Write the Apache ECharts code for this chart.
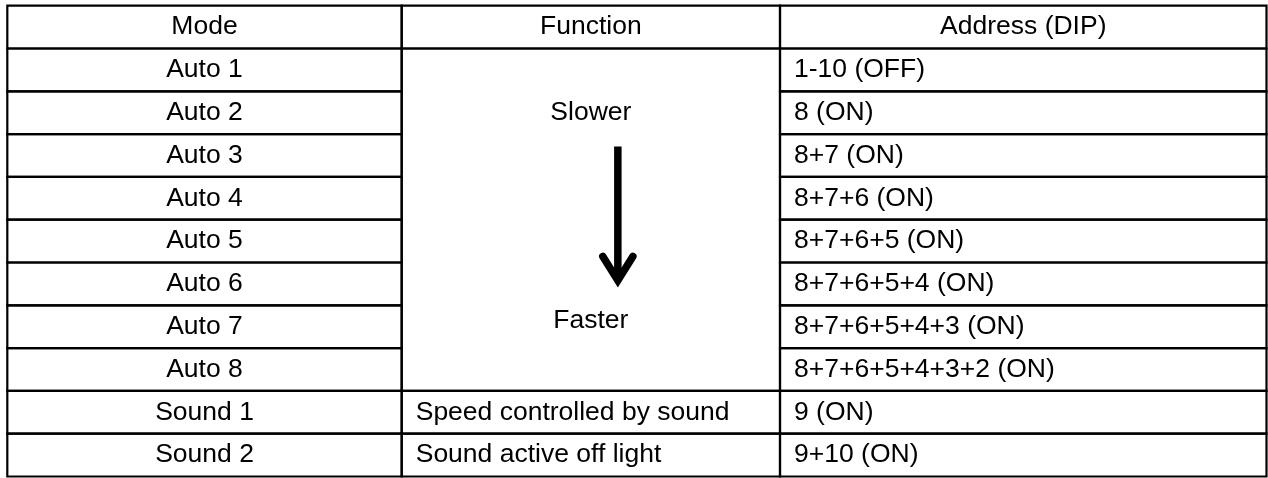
<!DOCTYPE html>
<html>
<head>
<meta charset="utf-8">
<script src="https://cdn.jsdelivr.net/npm/echarts@6/dist/echarts.min.js"></script>
<style>
    html, body {margin: 0; padding: 0; background: #fff;}
    #main {width: 1268px; height: 478px;}
</style>
</head>
<body>
<div id="main"></div>
<script>
    //表格内容
    var headers = ['Mode', 'Function', 'Address (DIP)'];
    var modes = ['Auto 1', 'Auto 2', 'Auto 3', 'Auto 4', 'Auto 5', 'Auto 6', 'Auto 7', 'Auto 8', 'Sound 1', 'Sound 2'];
    var addresses = ['1-10 (OFF)', '8 (ON)', '8+7 (ON)', '8+7+6 (ON)', '8+7+6+5 (ON)', '8+7+6+5+4 (ON)',
        '8+7+6+5+4+3 (ON)', '8+7+6+5+4+3+2 (ON)', '9 (ON)', '9+10 (ON)'];
    var soundFunctions = ['Speed controlled by sound', 'Sound active off light'];
    var speedLabels = ['Slower', 'Faster'];
    var speedLabelRows = [2.5, 7.36];   //行号(0=表头)
    var arrowRows = [3.29, 6.57];       //箭头起止
    var mergedRows = 8;                 //Auto 1-8 合并单元格

    //layout
    var colEdges = [0, 394.4, 772.7, 1259.2];
    var FONT = '26.5px "Liberation Sans", Arial, Helvetica, sans-serif';
    var PAD = 14;

    var cells = [];
    headers.forEach(function (h, c) {
        cells.push({col: c, r0: 0, r1: 1, text: h, align: 'center'});
    });
    for (var i = 0; i < modes.length; i++) {
        cells.push({col: 0, r0: i + 1, r1: i + 2, text: modes[i], align: 'center'});
        cells.push({col: 2, r0: i + 1, r1: i + 2, text: addresses[i], align: 'left'});
    }
    cells.push({col: 1, r0: 1, r1: 1 + mergedRows, text: '', align: 'center'});
    soundFunctions.forEach(function (f, k) {
        var r = 1 + mergedRows + k;
        cells.push({col: 1, r0: r, r1: r + 1, text: f, align: 'left'});
    });

    var funcCenter = (colEdges[1] + colEdges[2]) / 2;

    var chart = echarts.init(document.getElementById('main'));
    chart.setOption({
        animation: false,
        grid: {left: 7.3, right: 1.5, top: 5.7, bottom: 1.5},
        xAxis: {type: 'value', min: 0, max: colEdges[3], show: false},
        yAxis: {type: 'value', min: 0, max: modes.length + 1, inverse: true, show: false},
        series: [
            {
                name: 'cells',
                type: 'custom',
                clip: false,
                data: cells.map(function (c) {
                    return [colEdges[c.col], c.r0, colEdges[c.col + 1], c.r1];
                }),
                renderItem: function (params, api) {
                    var c = cells[params.dataIndex];
                    var p0 = api.coord([api.value(0), api.value(1)]);
                    var p1 = api.coord([api.value(2), api.value(3)]);
                    var tx = c.align === 'left' ? p0[0] + PAD : (p0[0] + p1[0]) / 2;
                    return {
                        type: 'group',
                        children: [
                            {
                                type: 'rect',
                                shape: {x: p0[0], y: p0[1], width: p1[0] - p0[0], height: p1[1] - p0[1]},
                                style: {fill: null, stroke: '#000', lineWidth: 2.2}
                            },
                            {
                                type: 'text',
                                style: {
                                    text: c.text, x: tx, y: (p0[1] + p1[1]) / 2,
                                    fill: '#000', font: FONT, align: c.align, verticalAlign: 'middle'
                                }
                            }
                        ]
                    };
                }
            },
            {
                name: 'speed',
                type: 'custom',
                clip: false,
                data: speedLabels.map(function (s, k) {
                    return [funcCenter, speedLabelRows[k]];
                }),
                renderItem: function (params, api) {
                    var p = api.coord([api.value(0), api.value(1)]);
                    return {
                        type: 'text',
                        style: {
                            text: speedLabels[params.dataIndex], x: p[0], y: p[1],
                            fill: '#000', font: FONT, align: 'center', verticalAlign: 'middle'
                        }
                    };
                }
            },
            {
                name: 'arrow',
                type: 'custom',
                clip: false,
                data: [[funcCenter, arrowRows[0], arrowRows[1]]],
                renderItem: function (params, api) {
                    var top = api.coord([api.value(0), api.value(1)]);
                    var tip = api.coord([api.value(0), api.value(2)]);
                    var x = top[0] + 27;
                    var ty = tip[1];
                    return {
                        type: 'group',
                        children: [
                            {
                                type: 'line',
                                shape: {x1: x, y1: top[1], x2: x, y2: ty - 7},
                                style: {stroke: '#000', lineWidth: 7.5, lineCap: 'butt'}
                            },
                            {
                                type: 'polyline',
                                shape: {points: [[x - 15, ty - 30.5], [x, ty - 6.5], [x + 15, ty - 30.5]]},
                                style: {stroke: '#000', fill: null, lineWidth: 7.5, lineCap: 'round', lineJoin: 'miter', miterLimit: 10}
                            }
                        ]
                    };
                }
            }
        ]
    });
</script>
</body>
</html>
